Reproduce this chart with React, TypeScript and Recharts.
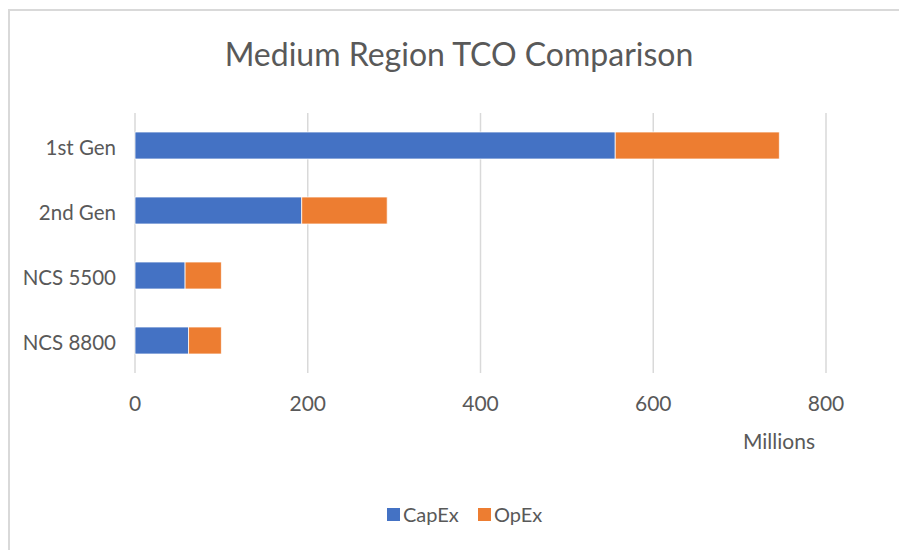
import { Bar, BarChart, CartesianGrid, XAxis, YAxis } from 'recharts';

const categories = ['1st Gen', '2nd Gen', 'NCS 5500', 'NCS 8800'];
const capEx = [556, 193, 58, 62];
const opEx = [190, 99, 42, 38];
const xTicks = [0, 200, 400, 600, 800];

const FONT = 'Lato, "Open Sans", sans-serif';
const TEXT = '#595959';
const BLUE = '#4472C4';
const ORANGE = '#ED7D31';

const data = categories.map((name, i) => ({ name, capEx: capEx[i], opEx: opEx[i] }));

// category labels right-aligned against the plot, like Excel does it
const CategoryTick = (props: any) => {
  const { y, payload } = props;
  return (
    <text x={116} y={y} dy={9.5} textAnchor="end" fill={TEXT} fontSize={20.5} fontFamily={FONT}>
      {payload.value}
    </text>
  );
};

const ValueTick = (props: any) => {
  const { x, y, payload } = props;
  return (
    <text x={x} y={y} dy={38} textAnchor="middle" fill={TEXT} fontSize={21} fontFamily={FONT}>
      {payload.value}
    </text>
  );
};

export default function App() {
  return (
    <div style={{ position: 'absolute', left: 0, top: 0, width: 899, height: 550, background: '#fff' }}>
      <div
        style={{
          position: 'absolute',
          left: 8,
          top: 9,
          width: 891,
          height: 541,
          borderTop: '2.5px solid #d9d9d9',
          borderLeft: '2.5px solid #d9d9d9',
          boxSizing: 'border-box',
        }}
      />
      <BarChart
        width={899}
        height={550}
        data={data}
        layout="vertical"
        margin={{ top: 113, right: 73, bottom: 137, left: 0 }}
        barSize={27}
        style={{ position: 'absolute', left: 0, top: 0 }}
      >
        <CartesianGrid horizontal={false} stroke="#d9d9d9" strokeWidth={1.5} />
        <XAxis
          type="number"
          domain={[0, 800]}
          ticks={xTicks}
          axisLine={false}
          tickLine={false}
          tickSize={0}
          tickMargin={0}
          height={40}
          tick={<ValueTick />}
        />
        <YAxis
          type="category"
          dataKey="name"
          width={135}
          axisLine={false}
          tickLine={false}
          tick={<CategoryTick />}
        />
        <Bar dataKey="capEx" stackId="tco" fill={BLUE} stroke="#fff" strokeWidth={0.75} isAnimationActive={false} />
        <Bar dataKey="opEx" stackId="tco" fill={ORANGE} stroke="#fff" strokeWidth={0.75} isAnimationActive={false} />
      </BarChart>
      <svg width={899} height={550} style={{ position: 'absolute', left: 0, top: 0, pointerEvents: 'none' }}>
        <text x={459} y={66} textAnchor="middle" fill={TEXT} fontSize={32} fontFamily={FONT}>
          Medium Region TCO Comparison
        </text>
        <text x={779} y={449} textAnchor="middle" fill={TEXT} fontSize={21} fontFamily={FONT}>
          Millions
        </text>
        <rect x={387} y={508} width={13} height={13} fill={BLUE} />
        <text x={403} y={522} fill={TEXT} fontSize={20} fontFamily={FONT}>
          CapEx
        </text>
        <rect x={478} y={508} width={13} height={13} fill={ORANGE} />
        <text x={494} y={522} fill={TEXT} fontSize={20} fontFamily={FONT}>
          OpEx
        </text>
      </svg>
    </div>
  );
}
